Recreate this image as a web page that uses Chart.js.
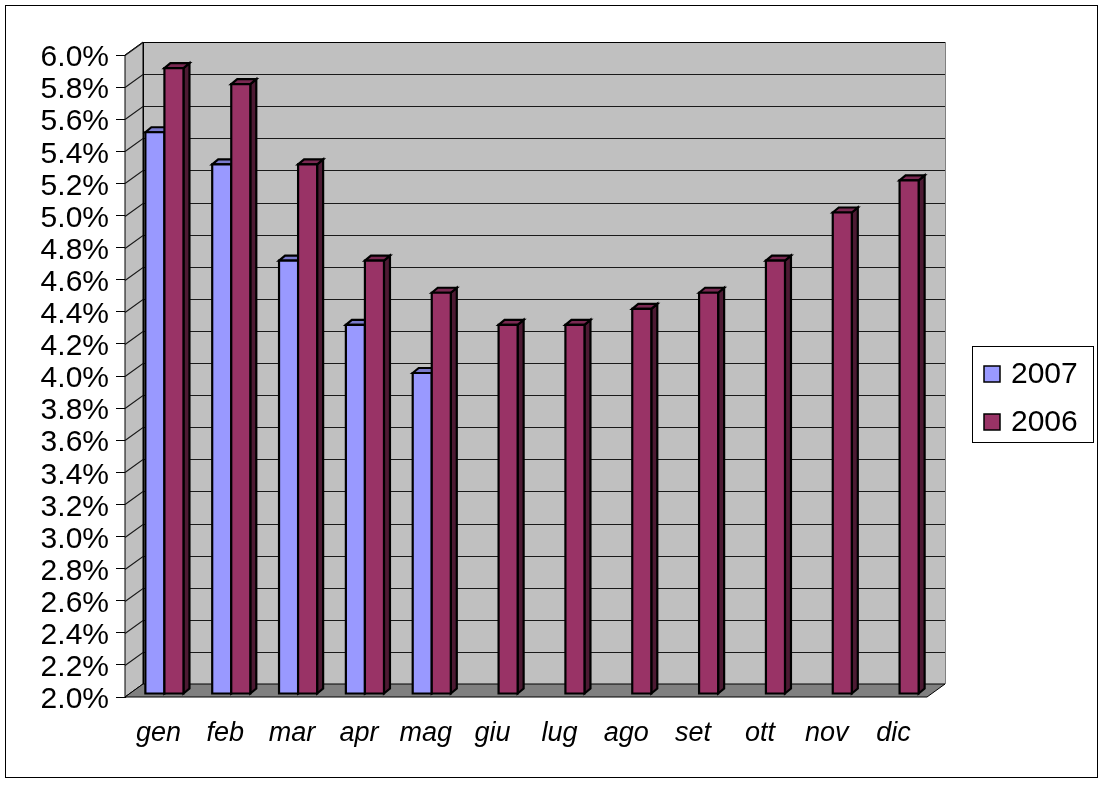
<!DOCTYPE html>
<html>
<head>
<meta charset="utf-8">
<script src="https://cdn.jsdelivr.net/npm/chart.js@4.4.1/dist/chart.umd.min.js"></script>
<style>
  html, body { margin: 0; background: #fff; }
  canvas { display: block; }
</style>
</head>
<body>
<canvas id="myChart" width="1104" height="785"></canvas>
<script>
// Monthly rate, 2007 against 2006 (Excel style 3D columns)

const months = ["gen", "feb", "mar", "apr", "mag", "giu", "lug", "ago", "set", "ott", "nov", "dic"];
const rate2007 = [5.5, 5.3, 4.7, 4.3, 4.0, null, null, null, null, null, null, null];
const rate2006 = [5.9, 5.8, 5.3, 4.7, 4.5, 4.3, 4.3, 4.4, 4.5, 4.7, 5.0, 5.2];
const seriesNames = ["2007", "2006"];
const yMin = 2.0;
const yMax = 6.0;
const yStep = 0.2;

const FONT = "'Liberation Sans', Arial, sans-serif";
const colors = ["#9999ff", "#993366"];

// depth of the walls and of the columns
const wallDX = 18, wallDY = -13;
const barDX = 6, barDY = -5;
const barShiftX = 6, barShiftY = -3;

function shade(hex, f) {
  const n = parseInt(hex.slice(1), 16);
  const r = Math.round(((n >> 16) & 255) * f);
  const g = Math.round(((n >> 8) & 255) * f);
  const b = Math.round((n & 255) * f);
  return `rgb(${r},${g},${b})`;
}

function poly(ctx, pts, fill) {
  ctx.beginPath();
  ctx.moveTo(pts[0][0], pts[0][1]);
  for (let i = 1; i < pts.length; i++) ctx.lineTo(pts[i][0], pts[i][1]);
  ctx.closePath();
  ctx.fillStyle = fill;
  ctx.fill();
  ctx.stroke();
}

const framePlugin = {
  id: "frame",
  beforeDraw(chart) {
    const ctx = chart.ctx;
    ctx.save();
    ctx.fillStyle = "#fff";
    ctx.fillRect(0, 0, chart.width, chart.height);
    ctx.strokeStyle = "#000";
    ctx.lineWidth = 1;
    ctx.strokeRect(5.5, 5.5, 1092, 772);
    ctx.restore();
  },
};

const wallsPlugin = {
  id: "walls",
  beforeDatasetsDraw(chart) {
    const { ctx, chartArea: a, scales } = chart;
    const y = scales.y;
    const L = a.left, R = a.right, T = a.top, B = a.bottom;
    ctx.save();
    ctx.strokeStyle = "#000";
    ctx.lineWidth = 1;
    // back wall
    ctx.fillStyle = "#c0c0c0";
    ctx.fillRect(L + wallDX, T + wallDY, R - L, B - T);
    // side wall
    poly(ctx, [[L, B], [L, T], [L + wallDX, T + wallDY], [L + wallDX, B + wallDY]], "#c0c0c0");
    // grid lines
    ctx.strokeStyle = "#1a1a1a";
    ctx.lineWidth = 1.2;
    y.ticks.forEach((t) => {
      const py = Math.round(y.getPixelForValue(t.value)) + 0.5;
      ctx.beginPath();
      ctx.moveTo(L, py);
      ctx.lineTo(L + wallDX, py + wallDY);
      ctx.lineTo(R + wallDX, py + wallDY);
      ctx.stroke();
    });
    ctx.lineWidth = 1;
    // back wall outline
    ctx.strokeStyle = "#000";
    ctx.beginPath();
    ctx.moveTo(L + wallDX + 0.5, B + wallDY);
    ctx.lineTo(L + wallDX + 0.5, T + wallDY + 0.5);
    ctx.lineTo(R + wallDX, T + wallDY + 0.5);
    ctx.stroke();
    ctx.strokeStyle = "#808080";
    ctx.beginPath();
    ctx.moveTo(R + wallDX + 0.5, T + wallDY);
    ctx.lineTo(R + wallDX + 0.5, B + wallDY);
    ctx.stroke();
    // floor
    ctx.strokeStyle = "#000";
    poly(ctx, [[L, B], [R, B], [R + wallDX, B + wallDY], [L + wallDX, B + wallDY]], "#808080");
    ctx.restore();

    ctx.save();
    ctx.translate(barShiftX, barShiftY);
  },
  afterDatasetsDraw(chart) {
    const ctx = chart.ctx;
    const metas = chart.getSortedVisibleDatasetMetas();
    ctx.strokeStyle = "#000";
    ctx.lineWidth = 2.2;
    ctx.lineJoin = "miter";
    for (let i = 0; i < months.length; i++) {
      metas.forEach((meta) => {
        const v = chart.data.datasets[meta.index].data[i];
        if (v == null) return;
        const bar = meta.data[i];
        const { x, y, base, width } = bar.getProps(["x", "y", "base", "width"], true);
        const x0 = x - width / 2, x1 = x + width / 2;
        const c = colors[meta.index];
        // side face
        poly(ctx, [[x1, y], [x1 + barDX, y + barDY], [x1 + barDX, base + barDY], [x1, base]], shade(c, 0.5));
        // top face
        poly(ctx, [[x0, y], [x0 + barDX, y + barDY], [x1 + barDX, y + barDY], [x1, y]], shade(c, 0.8));
        // front face
        poly(ctx, [[x0, y], [x1, y], [x1, base], [x0, base]], c);
      });
    }
    ctx.restore();
  },
};

const legendPlugin = {
  id: "boxLegend",
  afterDraw(chart) {
    const ctx = chart.ctx;
    ctx.save();
    ctx.fillStyle = "#fff";
    ctx.fillRect(972.5, 346.5, 121, 96);
    ctx.strokeStyle = "#000";
    ctx.lineWidth = 1;
    ctx.strokeRect(972.5, 346.5, 121, 96);
    ctx.font = "30px " + FONT;
    ctx.textBaseline = "middle";
    chart.data.datasets.forEach((ds, k) => {
      const cy = 374 + k * 48;
      ctx.fillStyle = ds.backgroundColor;
      ctx.fillRect(984, cy - 8, 16, 16);
      ctx.lineWidth = 1.5;
      ctx.strokeRect(984, cy - 8, 16, 16);
      ctx.fillStyle = "#000";
      ctx.fillText(ds.label, 1011, cy + 1);
    });
    ctx.restore();
  },
};

new Chart(document.getElementById("myChart"), {
  type: "bar",
  data: {
    labels: months,
    datasets: [
      {
        label: seriesNames[0],
        data: rate2007,
        backgroundColor: colors[0],
        borderColor: "#000",
        borderWidth: 2,
        base: yMin,
        clip: false,
      },
      {
        label: seriesNames[1],
        data: rate2006,
        backgroundColor: colors[1],
        borderColor: "#000",
        borderWidth: 2,
        base: yMin,
        clip: false,
      },
    ],
  },
  options: {
    responsive: false,
    animation: false,
    devicePixelRatio: 1,
    layout: { padding: { left: 0, right: 177, top: 55, bottom: 0 } },
    plugins: {
      legend: { display: false },
      tooltip: { enabled: false },
    },
    datasets: {
      bar: { barPercentage: 1.0, categoryPercentage: 0.57 },
    },
    scales: {
      x: {
        grid: { display: false },
        border: { display: false },
        ticks: {
          color: "#000",
          font: { family: FONT, size: 27, style: "italic" },
          padding: 12,
          maxRotation: 0,
          autoSkip: false,
        },
        afterFit(scale) {
          scale.height = 88;
        },
      },
      y: {
        min: yMin,
        max: yMax,
        grid: {
          drawOnChartArea: false,
          drawTicks: true,
          tickLength: 9,
          tickColor: "#000",
        },
        border: { display: true, color: "#000", width: 1 },
        ticks: {
          stepSize: yStep,
          maxTicksLimit: 30,
          autoSkip: false,
          color: "#000",
          padding: 7,
          labelOffset: 3,
          font: { family: FONT, size: 30 },
          callback: (v) => Number(v).toFixed(1) + "%",
        },
        afterFit(scale) {
          scale.width = 125;
        },
      },
    },
  },
  plugins: [framePlugin, wallsPlugin, legendPlugin],
});
</script>
</body>
</html>
